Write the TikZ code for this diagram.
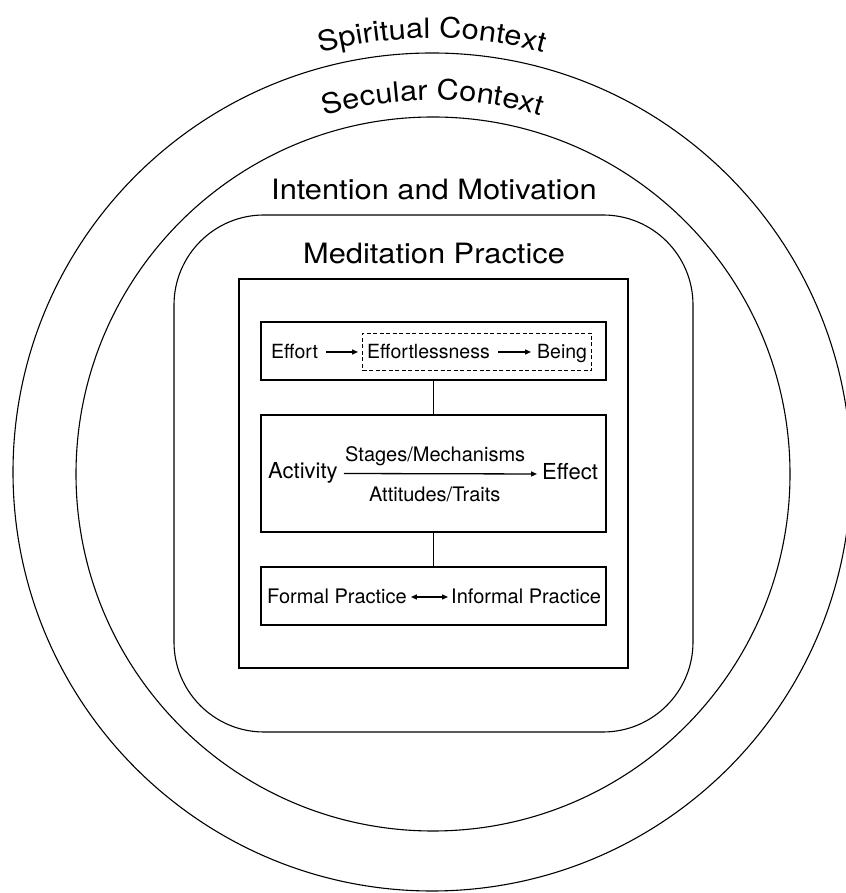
\documentclass[tikz,border=0pt]{standalone}
\usepackage{fontspec}
\setmainfont{TeX Gyre Heros}
\newfontfamily\widefont[FakeStretch=1.1]{TeX Gyre Heros}
\usetikzlibrary{arrows.meta,decorations.text,fit,calc}
\begin{document}
\begin{tikzpicture}[x=1pt,y=1pt,
  ring/.style={draw, line width=1.1pt},
  boxline/.style={draw, line width=1.3pt},
  boxnode/.style={boxline, inner sep=0pt, minimum width=345pt},
  small/.style={inner sep=0pt, anchor=base west, text height=14pt, text depth=0pt, font=\fontsize{19.5}{20}\selectfont},
  mid/.style={inner sep=0pt, anchor=base west, text height=14pt, text depth=0pt, font=\fontsize{20}{21}\selectfont},
  big/.style={inner sep=0pt, anchor=base west, text height=11pt, text depth=0pt, font=\fontsize{22}{23}\selectfont},
  title/.style={inner sep=0pt, anchor=base, font=\widefont\fontsize{28}{30}\selectfont},
  arr/.style={line width=1.3pt, -{Triangle[length=6pt,width=5pt]}},
  darr/.style={line width=1.3pt, {Triangle[length=6pt,width=5pt]}-{Triangle[length=6pt,width=5pt]}}
]
\useasboundingbox (0,0) rectangle (845,893);
\fill[white] (0,0) rectangle (845,893);

% context circles
\coordinate (cc) at (432,421);
\coordinate (cs) at (433,419);
\draw[ring] (cc) circle[radius=419];
\draw[ring] (cs) circle[radius=357];

\path[decorate, decoration={text along path, text align=center,
  text={|\widefont\fontsize{28}{28}\selectfont|Spiritual Context}}]
  ($(cc)+(120:434)$) arc[start angle=120, end angle=60, radius=434];
\path[decorate, decoration={text along path, text align=center,
  text={|\widefont\fontsize{28}{28}\selectfont|Secular Context}}]
  ($(cs)+(120:374)$) arc[start angle=120, end angle=60, radius=374];

% intention & practice frames
\draw[ring] [rounded corners=90pt] (174,161) rectangle (693,678);
\node[title] (intent) at (434,693) {Intention and Motivation};
\node[title] (medit) at (434,629) {Meditation Practice};
\draw[boxline] (239,225) rectangle (628,614);

% three boxes
\node[boxnode, minimum height=58pt] (b1) at (433.5,542) {};
\node[boxnode, minimum height=117pt] (b2) at (433.5,419.5) {};
\node[boxnode, minimum height=58pt] (b3) at (433.5,297) {};
\draw[boxline] (b1.south) -- (b2.north);
\draw[boxline] (b2.south) -- (b3.north);

% box 1
\node[small] (effort) at (271,534) {Effort};
\node[small] (el) at (367,534) {Effortlessness};
\node[small] (being) at (537,534) {Being};
\draw[arr, shorten <=8pt, shorten >=9pt] (effort.east) -- (el.west);
\draw[arr, shorten <=8pt, shorten >=6pt] (el.east) -- (being.west);
\node[draw, line width=1.3pt, dash pattern=on 4pt off 2.5pt, fit=(el)(being),
  inner xsep=4.5pt, inner ysep=11.5pt] (dashbox) {};

% box 2
\node[big] (act) at (268,414) {Activity};
\node[big] (eff) at (542,413.5) {Effect};
\draw[arr, shorten <=6pt, shorten >=5pt] (act.east) -- (eff.west);
\node[mid] (stages) at (345,431) {Stages/Mechanisms};
\node[mid] (att) at (369,391) {Attitudes/Traits};

% box 3
\node[mid] (formal) at (267,289) {Formal Practice};
\node[mid] (informal) at (451,289) {Informal Practice};
\draw[darr, shorten <=4pt, shorten >=3pt] (formal.east) -- (informal.west);
\end{tikzpicture}
\end{document}
